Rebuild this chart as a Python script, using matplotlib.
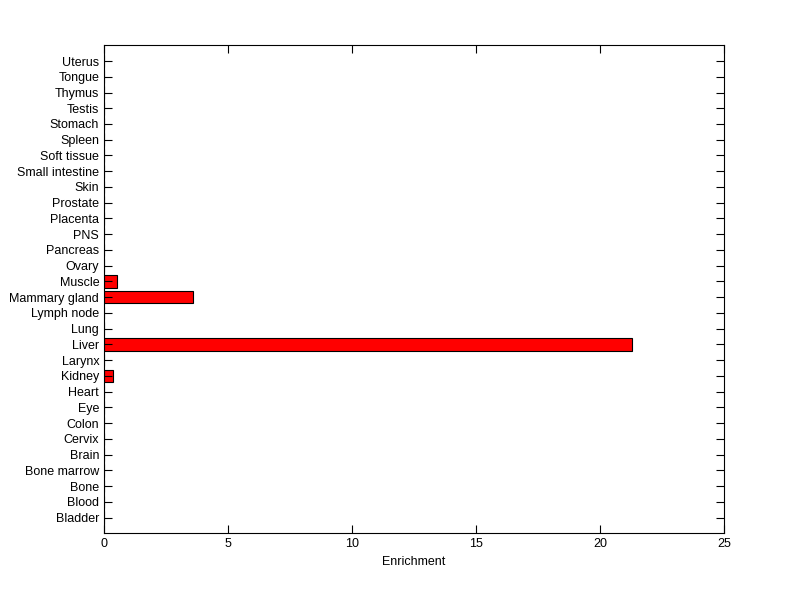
import numpy as np
import matplotlib
matplotlib.use("Agg")
import matplotlib.pyplot as plt

tissues = ["Bladder", "Blood", "Bone", "Bone marrow", "Brain", "Cervix", "Colon",
           "Eye", "Heart", "Kidney", "Larynx", "Liver", "Lung", "Lymph node",
           "Mammary gland", "Muscle", "Ovary", "Pancreas", "PNS", "Placenta",
           "Prostate", "Skin", "Small intestine", "Soft tissue", "Spleen",
           "Stomach", "Testis", "Thymus", "Tongue", "Uterus"]
enrichment = [0, 0, 0, 0, 0, 0, 0, 0, 0, 0.37, 0, 21.3, 0, 0,
              3.6, 0.54, 0, 0, 0, 0, 0, 0, 0, 0, 0, 0, 0, 0, 0, 0]

plt.rcParams['font.family'] = ['Liberation Sans', 'DejaVu Sans']

fig = plt.figure(figsize=(8, 5.99), dpi=100)
ax = fig.add_axes([0.13, 0.1097, 0.775, 0.8147])

pos = np.arange(1, len(tissues) + 1)
ax.barh(pos, enrichment, height=0.8, color='red', edgecolor='black', linewidth=0.8)

ax.set_xlim(0, 25)
ax.set_ylim(0, 31)
ax.set_xticks([0, 5, 10, 15, 20, 25])
ax.set_yticks(pos)
ax.set_yticklabels(tissues)
ax.set_xlabel('Enrichment', fontsize=9)
ax.tick_params(direction='in', top=True, right=True, length=6, width=0.8,
               labelsize=9, colors='black')
for s in ax.spines.values():
    s.set_linewidth(0.8)

fig.savefig("out.png", dpi=100)
